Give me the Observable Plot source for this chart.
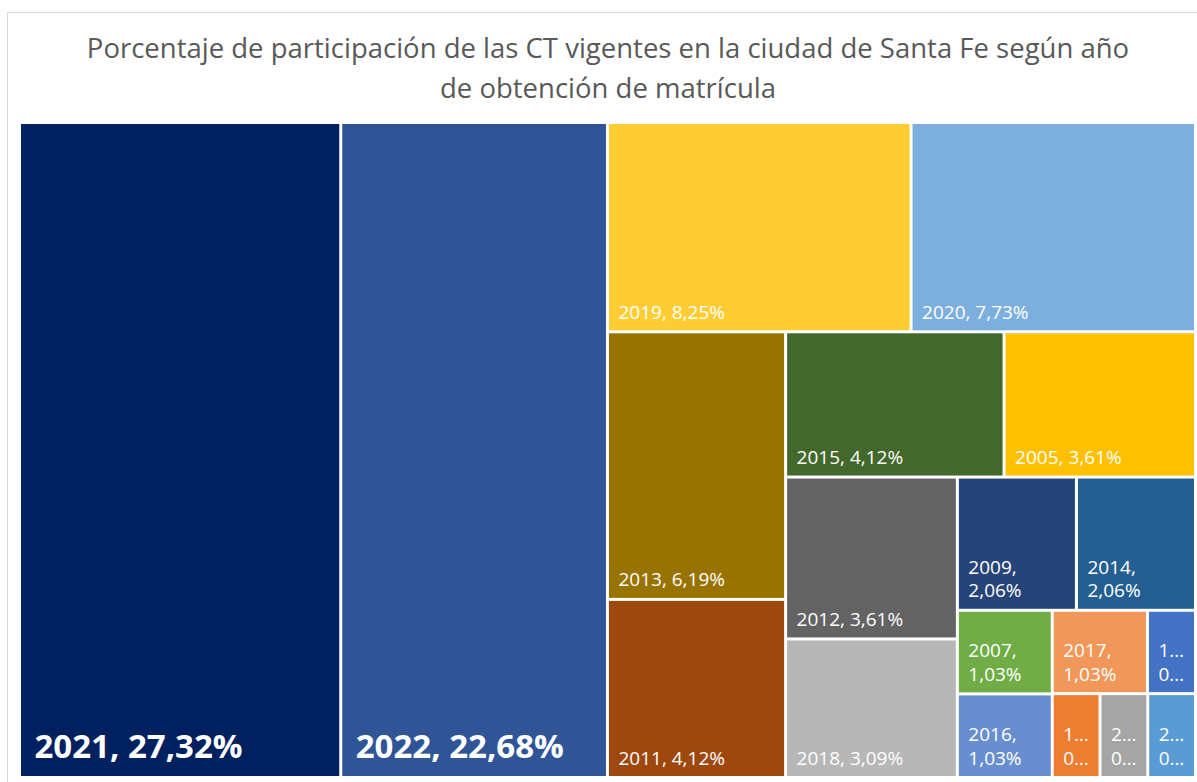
<!DOCTYPE html>
<html>
<head>
<meta charset="utf-8">
<script src="https://cdn.jsdelivr.net/npm/d3@7"></script>
<script src="https://cdn.jsdelivr.net/npm/@observablehq/plot@0.6"></script>
<style>
  html, body { margin: 0; padding: 0; background: #fff; overflow: hidden; width: 1197px; height: 782px; }
  #frame { position: absolute; left: 7px; top: 12px; width: 1300px; height: 900px; border: 1px solid #d9d9d9; box-sizing: border-box; pointer-events: none; }
  #title { position: absolute; left: 20px; top: 28px; width: 1176px; text-align: center; font-family: "Open Sans", sans-serif; font-size: 27.5px; line-height: 40px; color: #595959; }
  #chart { position: absolute; left: 0; top: 112px; }
</style>
</head>
<body>
<div id="frame"></div>
<div id="title">Porcentaje de participación de las CT vigentes en la ciudad de Santa Fe según año<br>de obtención de matrícula</div>
<div id="chart"></div>
<script>
// Data (chronological order, as in the source table)
const years = ["1990", "1996", "2003", "2005", "2006", "2007", "2009", "2011", "2012", "2013", "2014", "2015", "2016", "2017", "2018", "2019", "2020", "2021", "2022"];
const shares = [0.52, 0.52, 0.52, 3.61, 0.52, 1.03, 2.06, 4.12, 3.61, 6.19, 2.06, 4.12, 1.03, 1.03, 3.09, 8.25, 7.73, 27.32, 22.68];
const colors = ["#4472C4", "#ED7D31", "#A5A5A5", "#FFC000", "#5B9BD5", "#70AD47", "#264478", "#9E480E", "#636363", "#997300", "#255E91", "#43682B", "#698ED0", "#F1975A", "#B7B7B7", "#FFCD33", "#7CAFDD", "#002060", "#2F5597"];
const bigLabels = ["2021", "2022"];

// Strip sizes of the Excel-style layout (items per strip, laid along the shorter side)
const stripSizes = [1, 1, 2, 2, 2, 2, 2, 2, 2, 1, 1, 1];

const rows = years.map((y, i) => ({year: y, value: shares[i], color: colors[i], index: i}));

function excelTile(parent, x0, y0, x1, y1) {
  const nodes = parent.children;
  let i = 0, remaining = parent.value;
  const sizes = stripSizes.slice();
  while (i < nodes.length) {
    const k = sizes.length ? sizes.shift() : nodes.length - i;
    const row = nodes.slice(i, i + k); i += k;
    const rv = d3.sum(row, d => d.value);
    const dx = x1 - x0, dy = y1 - y0;
    const strip = {children: row, value: rv};
    if (dx >= dy) {
      const xs = i >= nodes.length ? x1 : x0 + dx * rv / remaining;
      d3.treemapSlice(strip, x0, y0, xs, y1);
      x0 = xs;
    } else {
      const ys = i >= nodes.length ? y1 : y0 + dy * rv / remaining;
      d3.treemapDice(strip, x0, y0, x1, ys);
      y0 = ys;
    }
    remaining -= rv;
  }
}

const W = 1173, H = 652;
const root = d3.hierarchy({children: rows})
  .sum(d => d.value || 0)
  .sort((a, b) => (b.value - a.value) || (a.data.index - b.data.index));
d3.treemap().size([W, H]).paddingInner(3).tile(excelTile)(root);
const leaves = root.leaves();

const fmt = v => v.toFixed(2).replace(".", ",") + "%";

// text measuring for label wrapping / truncation
const ctx = document.createElement("canvas").getContext("2d");
const SMALL = 19, BIG = 33, PAD = 9;
function measure(t, size, weight) { ctx.font = `${weight} ${size}px "Open Sans"`; return ctx.measureText(t).width; }
function fitLine(t, avail, size, weight) {
  if (measure(t, size, weight) <= avail) return t;
  let n = t.length - 1;
  while (n > 1 && measure(t.slice(0, n) + "…", size, weight) > avail) n--;
  return t.slice(0, n) + "…";
}
function labelFor(d) {
  const big = bigLabels.includes(d.data.year);
  const size = big ? BIG : SMALL, weight = big ? 700 : 400;
  const avail = (d.x1 - d.x0) - 2 * PAD;
  const full = `${d.data.year}, ${fmt(d.data.value)}`;
  if (measure(full, size, weight) <= avail) return full;
  return [fitLine(d.data.year + ",", avail, size, weight), fitLine(fmt(d.data.value), avail, size, weight)].join("\n");
}
leaves.forEach(d => { d.label = labelFor(d); d.big = bigLabels.includes(d.data.year); });

const chart = Plot.plot({
  width: 1197,
  height: 670,
  margin: 0,
  x: {domain: [0, W], range: [21, 21 + W], axis: null},
  y: {domain: [0, H], range: [12, 12 + H], axis: null},
  style: {fontFamily: '"Open Sans", sans-serif', background: "transparent"},
  marks: [
    Plot.rect(leaves, {
      x1: d => d.x0, x2: d => d.x1, y1: d => d.y0, y2: d => d.y1,
      fill: d => d.data.color, inset: 0
    }),
    Plot.text(leaves.filter(d => !d.big), {
      x: d => d.x0, y: d => d.y1, text: d => d.label,
      dx: PAD, dy: -12, textAnchor: "start", lineAnchor: "bottom",
      fill: "white", fontSize: SMALL, lineHeight: 1.24
    }),
    Plot.text(leaves.filter(d => d.big), {
      x: d => d.x0, y: d => d.y1, text: d => d.label,
      dx: 13, dy: -19, textAnchor: "start", lineAnchor: "bottom",
      fill: "white", fontSize: BIG, fontWeight: "bold"
    })
  ]
});
document.getElementById("chart").appendChild(chart);
</script>
</body>
</html>
